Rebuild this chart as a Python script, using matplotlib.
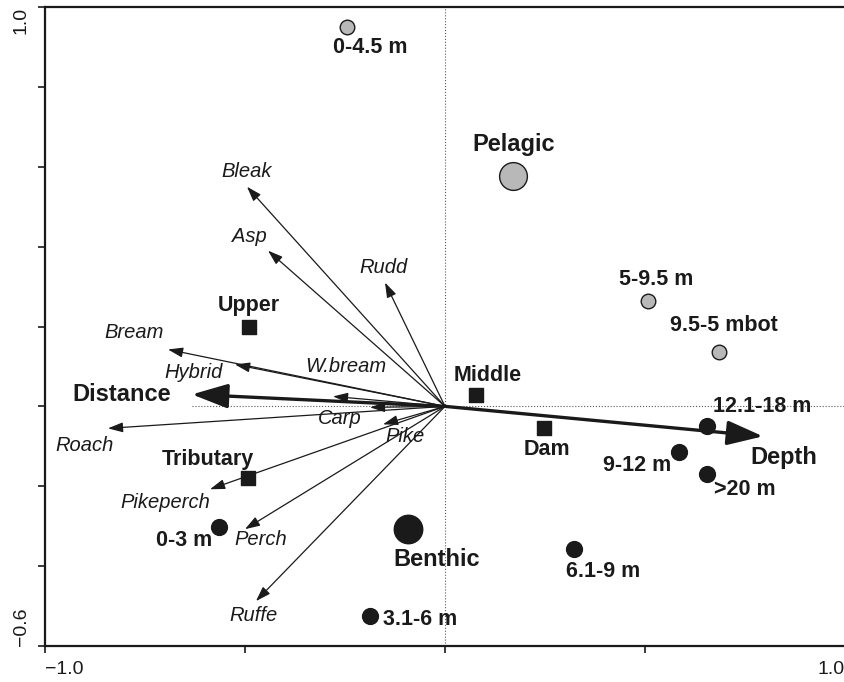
import matplotlib
matplotlib.use("Agg")
import matplotlib.pyplot as plt
from matplotlib.patches import FancyArrowPatch

plt.rcParams['font.family'] = ['Liberation Sans', 'DejaVu Sans']

# species vectors (arrow tips, start at origin)
species = ['Bleak', 'Asp', 'Rudd', 'Bream', 'Hybrid', 'W.bream', 'Carp',
           'Roach', 'Pike', 'Pikeperch', 'Perch', 'Ruffe']
species_x = [-0.495, -0.4425, -0.15, -0.6925, -0.525, -0.28, -0.1875,
             -0.8425, -0.155, -0.5875, -0.5, -0.4725]
species_y = [0.55, 0.39, 0.31, 0.1425, 0.105, 0.025, -0.0025,
             -0.055, -0.045, -0.2075, -0.3075, -0.4875]

# environmental vectors
env = ['Distance', 'Depth']
env_x = [-0.6325, 0.795]
env_y = [0.03, -0.075]

# depth layer centroids: pelagic (grey) and benthic (black)
pel_names = ['0-4.5 m', '5-9.5 m', '9.5-5 mbot']
pel_x = [-0.245, 0.5075, 0.685]
pel_y = [0.95, 0.265, 0.135]

ben_names = ['12.1-18 m', '9-12 m', '>20 m', '6.1-9 m', '3.1-6 m', '0-3 m']
ben_x = [0.655, 0.585, 0.655, 0.3225, -0.1875, -0.565]
ben_y = [-0.05, -0.115, -0.17, -0.3575, -0.525, -0.3025]

# habitat centroids
hab_names = ['Pelagic', 'Benthic']
hab_x = [0.17, -0.0925]
hab_y = [0.5775, -0.3075]

# reservoir parts
part_names = ['Upper', 'Middle', 'Dam', 'Tributary']
part_x = [-0.49, 0.0775, 0.2475, -0.4925]
part_y = [0.2, 0.0275, -0.055, -0.18]

# label offsets in pixels
species_off = [(0, 15), (-19, 14), (-2, 15), (-34, 17), (-41, -8), (13, 30),
               (-30, -11), (-23, -17), (22, -12), (-45, -13), (16, -10), (-2, -14)]
env_off = [(-70, 0), (21, -21)]
pel_off = [(23, -21), (8, 21), (5, 27)]
ben_off = [(55, 20), (-42, -13), (38, -15), (29, -22), (50, -3), (-35, -13)]
hab_off = [(1, 31), (29, -30)]
part_off = [(0, 21), (12, 20), (3, -21), (-40, 19)]

fig = plt.figure(figsize=(8.44, 6.82), dpi=100)
ax = fig.add_axes([45 / 844, 36 / 682, 800 / 844, 639 / 682])
ax.set_xlim(-1.0, 1.0)
ax.set_ylim(-0.6, 1.0)

# dotted reference lines
ax.plot([0, 0], [-0.6, 1.0], ls=':', color='0.35', lw=0.8, zorder=1)
ax.plot([env_x[0], 1.0], [0, 0], ls=':', color='0.35', lw=0.8, zorder=1)


def label(x, y, text, off, size, weight='normal', style='normal'):
    ax.annotate(text, (x, y), xytext=off, textcoords='offset pixels',
                ha='center', va='center', fontsize=size,
                fontweight=weight, fontstyle=style, color='#1a1a1a', zorder=6)


for name, x, y, off in zip(species, species_x, species_y, species_off):
    arr = FancyArrowPatch((0, 0), (x, y),
                          arrowstyle='-|>,head_length=9,head_width=3',
                          mutation_scale=1, lw=0.9, color='#1a1a1a',
                          shrinkA=0, shrinkB=0, zorder=3)
    ax.add_patch(arr)
    label(x, y, name, off, 14.5, style='italic')

for name, x, y, off in zip(env, env_x, env_y, env_off):
    arr = FancyArrowPatch((0, 0), (x, y),
                          arrowstyle='-|>,head_length=22,head_width=7.5',
                          mutation_scale=1, lw=2.4, color='#1a1a1a',
                          shrinkA=0, shrinkB=0, zorder=4)
    ax.add_patch(arr)
    label(x, y, name, off, 17, weight='bold')

ax.scatter(pel_x, pel_y, s=110, c='#b8b8b8', edgecolors='#1a1a1a',
           linewidths=1.0, zorder=5)
ax.scatter(ben_x, ben_y, s=130, c='#1a1a1a', edgecolors='#1a1a1a', zorder=5)
ax.scatter(hab_x[:1], hab_y[:1], s=400, c='#b8b8b8', edgecolors='#1a1a1a',
           linewidths=1.0, zorder=5)
ax.scatter(hab_x[1:], hab_y[1:], s=420, c='#1a1a1a', zorder=5)
ax.scatter(part_x, part_y, s=110, marker='s', c='#1a1a1a', zorder=5)

for names, xs, ys, offs in [(pel_names, pel_x, pel_y, pel_off),
                            (ben_names, ben_x, ben_y, ben_off),
                            (part_names, part_x, part_y, part_off)]:
    for name, x, y, off in zip(names, xs, ys, offs):
        label(x, y, name, off, 15.5, weight='bold')
for name, x, y, off in zip(hab_names, hab_x, hab_y, hab_off):
    label(x, y, name, off, 17, weight='bold')

# axes frame and ticks
for side in ['left', 'bottom', 'top']:
    ax.spines[side].set_linewidth(1.6)
    ax.spines[side].set_color('#1a1a1a')
ax.spines['right'].set_visible(False)

ax.set_xticks([-1.0, -0.5, 0.0, 0.5, 1.0])
ax.set_xticklabels(['\u22121.0', '', '', '', '1.0'])
ax.set_yticks([-0.6, -0.4, -0.2, 0.0, 0.2, 0.4, 0.6, 0.8, 1.0])
ax.set_yticklabels(['\u22120.6', '', '', '', '', '', '', '', '1.0'], rotation=90)
ax.tick_params(direction='out', length=5, width=1.2, labelsize=14,
               colors='#1a1a1a', pad=6)

xl = ax.get_xticklabels()
xl[0].set_ha('left')
xl[-1].set_ha('right')
yl = ax.get_yticklabels()
yl[0].set_va('bottom')
yl[-1].set_va('top')

fig.savefig('out.png', dpi=100)
